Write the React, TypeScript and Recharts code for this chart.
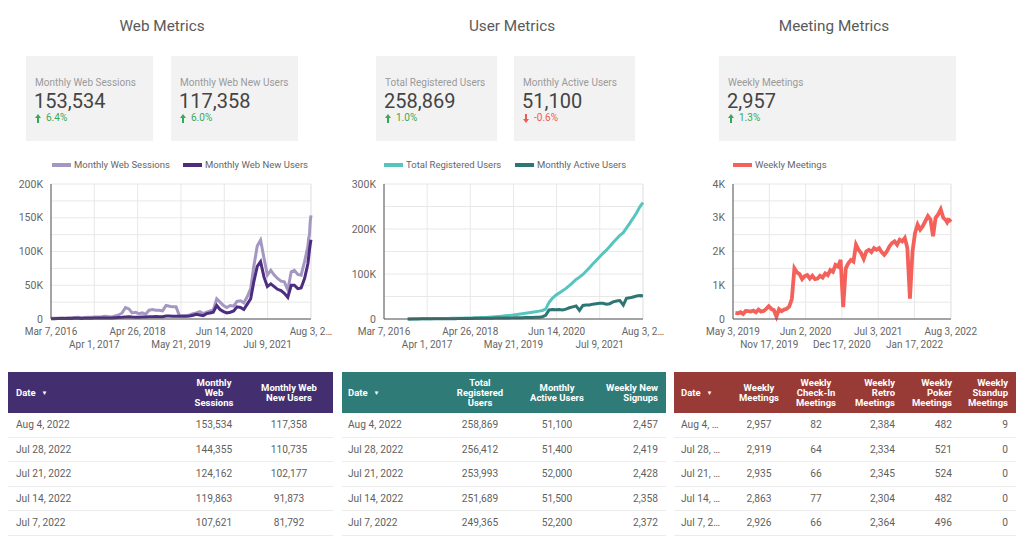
import React from "react";
import { LineChart, Line, XAxis, YAxis, CartesianGrid } from "recharts";

const FONT = "Roboto, 'Noto Sans', sans-serif";

// web metrics: monthly points, then the last five weeks from the table
const webDates = [
  "2016-03-07", "2016-04-07", "2016-05-07", "2016-06-07", "2016-07-07", "2016-08-07", "2016-09-07", "2016-10-07", "2016-11-07", "2016-12-07",
  "2017-01-07", "2017-02-07", "2017-03-07", "2017-04-07", "2017-05-07", "2017-06-07", "2017-07-07", "2017-08-07", "2017-09-07", "2017-10-07", "2017-11-07", "2017-12-07",
  "2018-01-07", "2018-02-07", "2018-03-07", "2018-04-07", "2018-05-07", "2018-06-07", "2018-07-07", "2018-08-07", "2018-09-07", "2018-10-07", "2018-11-07", "2018-12-07",
  "2019-01-07", "2019-02-07", "2019-03-07", "2019-04-07", "2019-05-07", "2019-06-07", "2019-07-07", "2019-08-07", "2019-09-07", "2019-10-07", "2019-11-07", "2019-12-07",
  "2020-01-07", "2020-02-07", "2020-03-07", "2020-04-07", "2020-05-07", "2020-06-07", "2020-07-07", "2020-08-07", "2020-09-07", "2020-10-07", "2020-11-07", "2020-12-07",
  "2021-01-07", "2021-02-07", "2021-03-07", "2021-04-07", "2021-05-07", "2021-06-07", "2021-07-07", "2021-08-07", "2021-09-07", "2021-10-07", "2021-11-07", "2021-12-07",
  "2022-01-07", "2022-02-07", "2022-03-07", "2022-04-07", "2022-05-07", "2022-06-07",
  "2022-07-07", "2022-07-14", "2022-07-21", "2022-07-28", "2022-08-04",
];
const webSessions = [
  1000, 1100, 1200, 1500, 1300, 1800, 2000, 2200, 2500, 1800,
  2400, 2600, 2500, 2800, 3000, 3200, 4000, 3500, 3000, 4500, 6000, 9000,
  17000, 15000, 9000, 10000, 8000, 9000, 7000, 13000, 14000, 13000, 13000, 12000,
  20000, 19000, 18000, 18000, 5000, 5000, 5000, 6000, 8000, 9000, 11000, 8000,
  10000, 12000, 13000, 30000, 25000, 20000, 17000, 20000, 19000, 26000, 27000, 24000,
  33000, 45000, 78000, 108000, 117000, 90000, 65000, 72000, 65000, 60000, 56000, 55000,
  43000, 70000, 72000, 66000, 65000, 85000,
  107621, 119863, 124162, 144355, 153534,
];
const webNewUsers = [
  500, 500, 600, 700, 700, 800, 900, 1000, 1100, 900,
  1100, 1200, 1200, 1300, 1400, 1500, 1600, 1500, 1600, 2000, 2200, 2500,
  3000, 3200, 2800, 2600, 2500, 2800, 3000, 3500, 3500, 3800, 3500, 3400,
  4500, 4500, 4000, 4200, 4000, 4000, 4200, 4500, 5500, 7000, 6000, 5000,
  8000, 9000, 10000, 20000, 14000, 11000, 9000, 10000, 12000, 18000, 17000, 14000,
  22000, 30000, 55000, 78000, 85000, 62000, 48000, 52000, 48000, 44000, 42000, 38000,
  32000, 50000, 50000, 45000, 46000, 60000,
  81792, 91873, 102177, 110735, 117358,
];

// user metrics
const userDates = [
  "2016-10-07", "2016-11-07", "2016-12-07",
  "2017-01-07", "2017-02-07", "2017-03-07", "2017-04-07", "2017-05-07", "2017-06-07", "2017-07-07", "2017-08-07", "2017-09-07", "2017-10-07", "2017-11-07", "2017-12-07",
  "2018-01-07", "2018-02-07", "2018-03-07", "2018-04-07", "2018-05-07", "2018-06-07", "2018-07-07", "2018-08-07", "2018-09-07", "2018-10-07", "2018-11-07", "2018-12-07",
  "2019-01-07", "2019-02-07", "2019-03-07", "2019-04-07", "2019-05-07", "2019-06-07", "2019-07-07", "2019-08-07", "2019-09-07", "2019-10-07", "2019-11-07", "2019-12-07",
  "2020-01-07", "2020-02-07", "2020-03-07", "2020-04-07", "2020-05-07", "2020-06-07", "2020-07-07", "2020-08-07", "2020-09-07", "2020-10-07", "2020-11-07", "2020-12-07",
  "2021-01-07", "2021-02-07", "2021-03-07", "2021-04-07", "2021-05-07", "2021-06-07", "2021-07-07", "2021-08-07", "2021-09-07", "2021-10-07", "2021-11-07", "2021-12-07",
  "2022-01-07", "2022-02-07", "2022-03-07", "2022-04-07", "2022-05-07", "2022-06-07",
  "2022-07-07", "2022-07-14", "2022-07-21", "2022-07-28", "2022-08-04",
];
const totalRegistered = [
  100, 200, 300,
  400, 500, 600, 700, 800, 900, 1000, 1100, 1200, 1300, 1400, 1500,
  1700, 1900, 2000, 2200, 2400, 2600, 2900, 3200, 3600, 4000, 4500, 5000,
  5600, 6300, 7000, 7800, 8600, 9500, 10500, 11500, 12600, 13800, 15000, 16200,
  17500, 19000, 22000, 37000, 46000, 53000, 58000, 63000, 68000, 74000, 81000, 88000,
  93000, 99000, 106000, 114000, 122000, 130000, 138000, 146000, 153000, 161000, 170000, 178000,
  186000, 192000, 202000, 213000, 224000, 236000,
  249365, 251689, 253993, 256412, 258869,
];
const monthlyActive = [
  100, 150, 200,
  250, 300, 350, 400, 450, 500, 550, 600, 650, 700, 750, 800,
  900, 1000, 1100, 1200, 1300, 1400, 1500, 1600, 1700, 1800, 1900, 2000,
  2100, 2200, 2300, 2400, 2500, 2600, 2800, 3000, 3200, 3400, 3600, 3800,
  4000, 5000, 8000, 20000, 21000, 20500, 21000, 20000, 22000, 25000, 27000, 29000,
  19000, 30000, 31000, 31000, 33000, 34000, 35000, 35000, 33000, 34000, 38000, 40000,
  41000, 31000, 46000, 47000, 49000, 51000,
  52200, 51500, 52000, 51400, 51100,
];

// meeting metrics: every other week, then the last four weeks
const meetingDates = [
  "2019-05-16", "2019-05-30", "2019-06-13", "2019-06-27", "2019-07-11", "2019-07-25", "2019-08-08", "2019-08-22", "2019-09-05", "2019-09-19",
  "2019-10-03", "2019-10-17", "2019-10-31", "2019-11-14", "2019-11-28", "2019-12-12", "2019-12-26", "2020-01-09", "2020-01-23", "2020-02-06",
  "2020-02-20", "2020-03-05", "2020-03-19", "2020-04-02", "2020-04-16", "2020-04-30", "2020-05-14", "2020-05-28", "2020-06-11", "2020-06-25",
  "2020-07-09", "2020-07-23", "2020-08-06", "2020-08-20", "2020-09-03", "2020-09-17", "2020-10-01", "2020-10-15", "2020-10-29", "2020-11-12",
  "2020-11-26", "2020-12-10", "2020-12-24", "2021-01-07", "2021-01-21", "2021-02-04", "2021-02-18", "2021-03-04", "2021-03-18", "2021-04-01",
  "2021-04-15", "2021-04-29", "2021-05-13", "2021-05-27", "2021-06-10", "2021-06-24", "2021-07-08", "2021-07-22", "2021-08-05", "2021-08-19",
  "2021-09-02", "2021-09-16", "2021-09-30", "2021-10-14", "2021-10-28", "2021-11-11", "2021-11-25", "2021-12-09", "2021-12-23", "2022-01-06",
  "2022-01-20", "2022-02-03", "2022-02-17", "2022-03-03", "2022-03-17", "2022-03-31", "2022-04-14", "2022-04-28", "2022-05-12", "2022-05-26",
  "2022-06-09", "2022-06-23", "2022-07-07", "2022-07-14", "2022-07-21", "2022-07-28", "2022-08-04",
];
const weeklyMeetings = [
  180, 170, 200, 150, 240, 230, 220, 250, 200, 280,
  220, 240, 300, 380, 300, 260, 70, 290, 230, 280,
  300, 370, 600, 1500, 1380, 1330, 1180, 1270, 1300, 1200,
  1280, 1180, 1200, 1280, 1230, 1350, 1300, 1450, 1400, 1600,
  1550, 1750, 350, 1500, 1650, 1750, 1700, 2200, 2050, 1950,
  1780, 2000, 2050, 1980, 2100, 2050, 2100, 1980, 1900, 2000,
  2150, 2250, 2300, 2200, 2350, 2300, 2400, 2100, 600, 2000,
  2550, 2800, 2650, 2750, 2900, 3050, 2950, 2450, 3000, 3100,
  3250, 3000, 2926, 2863, 2935, 2919, 2957,
];

const longTickDates = ["2016-03-07", "2017-04-01", "2018-04-26", "2019-05-21", "2020-06-14", "2021-07-09", "2022-08-03"];
const longTickLabels = ["Mar 7, 2016", "Apr 1, 2017", "Apr 26, 2018", "May 21, 2019", "Jun 14, 2020", "Jul 9, 2021", "Aug 3, 2…"];
const meetingTickDates = ["2019-05-03", "2019-11-17", "2020-06-02", "2020-12-17", "2021-07-03", "2022-01-17", "2022-08-03"];
const meetingTickLabels = ["May 3, 2019", "Nov 17, 2019", "Jun 2, 2020", "Dec 17, 2020", "Jul 3, 2021", "Jan 17, 2022", "Aug 3, 2022"];

const webYTicks = [0, 25000, 50000, 75000, 100000, 125000, 150000, 175000, 200000];
const userYTicks = [0, 50000, 100000, 150000, 200000, 250000, 300000];
const meetingYTicks = [0, 500, 1000, 1500, 2000, 2500, 3000, 3500, 4000];

// tables
const tableDates = ["Aug 4, 2022", "Jul 28, 2022", "Jul 21, 2022", "Jul 14, 2022", "Jul 7, 2022"];
const tblSessions = [153534, 144355, 124162, 119863, 107621];
const tblNewUsers = [117358, 110735, 102177, 91873, 81792];
const tblRegistered = [258869, 256412, 253993, 251689, 249365];
const tblActive = [51100, 51400, 52000, 51500, 52200];
const tblSignups = [2457, 2419, 2428, 2358, 2372];
const tblMeetings = [2957, 2919, 2935, 2863, 2926];
const tblCheckIn = [82, 64, 66, 77, 66];
const tblRetro = [2384, 2334, 2345, 2304, 2364];
const tblPoker = [482, 521, 524, 482, 496];
const tblStandup = [9, 0, 0, 0, 0];

const toTime = (s: string) => Date.parse(s + "T00:00:00Z");
const fmt = (n: number) => n.toLocaleString("en-US");
const fmtK = (v: number) => (v === 0 ? "0" : v / 1000 + "K");

type Series = { key: string; color: string; values: number[] };

const CHART_W = 345;

function TrendChart(props: {
  left: number;
  width: number;
  yWidth: number;
  dates: string[];
  series: Series[];
  yTicks: number[];
  labelStep: number;
  tickDates: string[];
  tickLabels: string[];
  start: string;
  end: string;
  strokeWidth: number;
}) {
  const { left, width, yWidth, dates, series, yTicks, labelStep, tickDates, tickLabels, start, end, strokeWidth } = props;
  const data = dates.map((d, i) => {
    const row: any = { t: toTime(d) };
    series.forEach((s) => (row[s.key] = s.values[i]));
    return row;
  });
  const ticks = tickDates.map(toTime);
  return (
    <div style={{ position: "absolute", left, top: 150 }}>
      <LineChart width={CHART_W} height={210} data={data} margin={{ top: 34, right: CHART_W - width, bottom: 0, left: 0 }}>
        <CartesianGrid stroke="#e8e8e8" />
        <XAxis
          dataKey="t"
          type="number"
          domain={[toTime(start), toTime(end)]}
          ticks={ticks}
          interval={0}
          height={41}
          tickLine={false}
          axisLine={{ stroke: "#555" }}
          tick={(p: any) => {
            const i = ticks.indexOf(p.payload.value);
            return (
              <text
                key={"t" + i}
                x={p.x}
                y={p.y}
                dy={i % 2 ? 20.5 : 7.5}
                textAnchor="middle"
                fontSize={10}
                fill="#666"
                fontFamily={FONT}
              >
                {tickLabels[i]}
              </text>
            );
          }}
        />
        <YAxis
          width={yWidth}
          ticks={yTicks}
          domain={[0, yTicks[yTicks.length - 1]]}
          interval={0}
          tickLine={false}
          axisLine={{ stroke: "#555" }}
          tick={{ fontSize: 10.5, fill: "#666", fontFamily: FONT }}
          tickFormatter={(v: number) => (v % labelStep === 0 ? fmtK(v) : "")}
        />
        {series.map((s) => (
          <Line
            key={s.key}
            dataKey={s.key}
            type="linear"
            stroke={s.color}
            strokeWidth={strokeWidth}
            dot={false}
            isAnimationActive={false}
          />
        ))}
      </LineChart>
    </div>
  );
}

function Legend({ items }: { items: { x: number; label: string; color: string }[] }) {
  return (
    <>
      {items.map((it) => (
        <div key={it.label} style={{ position: "absolute", left: it.x, top: 158, height: 13, display: "flex", alignItems: "center" }}>
          <div style={{ width: 19, height: 4, background: it.color, marginRight: 3 }} />
          <span style={{ fontSize: 9.5, color: "#666", lineHeight: "13px", whiteSpace: "nowrap" }}>{it.label}</span>
        </div>
      ))}
    </>
  );
}

function Arrow({ up }: { up: boolean }) {
  const c = up ? "#3aa757" : "#ec5a52";
  return (
    <svg width={6} height={9} style={{ marginRight: 5 }}>
      {up ? (
        <>
          <polygon points="3,0 6,4 0,4" fill={c} />
          <rect x={2} y={4} width={2} height={5} fill={c} />
        </>
      ) : (
        <>
          <polygon points="3,9 6,5 0,5" fill={c} />
          <rect x={2} y={0} width={2} height={5} fill={c} />
        </>
      )}
    </svg>
  );
}

function Card(props: { left: number; width: number; label: string; value: string; delta: string; up: boolean }) {
  return (
    <div style={{ position: "absolute", left: props.left, top: 56, width: props.width, height: 85, background: "#f2f2f2" }}>
      <div style={{ position: "absolute", left: 9, top: 20, fontSize: 10, lineHeight: "13px", color: "#9a9a9a", whiteSpace: "nowrap" }}>
        {props.label}
      </div>
      <div style={{ position: "absolute", left: 8, top: 32, fontSize: 20, lineHeight: "26px", color: "#444" }}>{props.value}</div>
      <div
        style={{
          position: "absolute",
          left: 9,
          top: 56,
          fontSize: 10,
          lineHeight: "12px",
          color: props.up ? "#3aa757" : "#ec5a52",
          display: "flex",
          alignItems: "center",
        }}
      >
        <Arrow up={props.up} />
        {props.delta}
      </div>
    </div>
  );
}

type Col = { x: number; w: number; align: "left" | "center" | "right"; head: string[]; cells: string[]; date?: boolean; ellipsis?: boolean };

function DataTable({ left, width, color, cols }: { left: number; width: number; color: string; cols: Col[] }) {
  const rowH = 24.6;
  return (
    <div style={{ position: "absolute", left, top: 372, width, height: 41 + rowH * 5 }}>
      <div style={{ position: "absolute", left: 0, top: 0, width, height: 41, background: color }} />
      {cols.map((c, ci) => (
        <div
          key={"h" + ci}
          style={{
            position: "absolute",
            left: c.x,
            width: c.w,
            top: 0,
            height: 41,
            display: "flex",
            flexDirection: "column",
            justifyContent: "center",
            textAlign: c.align,
            color: "#fff",
            fontWeight: 700,
            fontSize: 9.5,
            lineHeight: "10px",
          }}
        >
          {c.head.map((h, hi) => (
            <div key={hi}>
              {h}
              {c.date ? <span style={{ fontSize: 6, marginLeft: 6, verticalAlign: 1 }}>▼</span> : null}
            </div>
          ))}
        </div>
      ))}
      {tableDates.map((_, r) => (
        <div
          key={"r" + r}
          style={{ position: "absolute", left: 0, top: 41 + r * rowH, width, height: rowH, borderBottom: "1px solid #ececec", boxSizing: "border-box" }}
        />
      ))}
      {cols.map((c, ci) =>
        c.cells.map((v, r) => (
          <div
            key={ci + "-" + r}
            style={{
              position: "absolute",
              left: c.x,
              width: c.w,
              top: 41 + r * rowH,
              height: rowH,
              lineHeight: rowH + "px",
              textAlign: c.align,
              fontSize: 10.2,
              color: "#5f5f5f",
              whiteSpace: "nowrap",
              overflow: c.ellipsis ? "hidden" : "visible",
              textOverflow: c.ellipsis ? "ellipsis" : "clip",
            }}
          >
            {v}
          </div>
        ))
      )}
    </div>
  );
}

const title = (text: string, cx: number) => (
  <div style={{ position: "absolute", left: cx - 100, width: 200, top: 16, textAlign: "center", fontSize: 15.3, lineHeight: "20px", color: "#5a5a5a" }}>
    {text}
  </div>
);

export default function App() {
  return (
    <div
      style={{
        position: "absolute",
        left: 0,
        top: 0,
        width: 1023,
        height: 548,
        background: "#fff",
        overflow: "hidden",
        fontFamily: FONT,
      }}
    >
      {title("Web Metrics", 162)}
      {title("User Metrics", 512)}
      {title("Meeting Metrics", 834)}

      <Card left={26} width={127} label="Monthly Web Sessions" value="153,534" delta="6.4%" up />
      <Card left={171} width={127} label="Monthly Web New Users" value="117,358" delta="6.0%" up />
      <Card left={376} width={121} label="Total Registered Users" value="258,869" delta="1.0%" up />
      <Card left={514} width={121} label="Monthly Active Users" value="51,100" delta="-0.6%" up={false} />
      <Card left={719} width={237} label="Weekly Meetings" value="2,957" delta="1.3%" up />

      <Legend
        items={[
          { x: 52, label: "Monthly Web Sessions", color: "#a497c2" },
          { x: 183, label: "Monthly Web New Users", color: "#4c2d80" },
        ]}
      />
      <TrendChart
        left={0}
        width={311}
        yWidth={51}
        dates={webDates}
        series={[
          { key: "sessions", color: "#a497c2", values: webSessions },
          { key: "newUsers", color: "#4c2d80", values: webNewUsers },
        ]}
        yTicks={webYTicks}
        labelStep={50000}
        tickDates={longTickDates}
        tickLabels={longTickLabels}
        start="2016-03-07"
        end="2022-08-04"
        strokeWidth={3}
      />

      <Legend
        items={[
          { x: 384, label: "Total Registered Users", color: "#56c5c0" },
          { x: 515, label: "Monthly Active Users", color: "#2d7674" },
        ]}
      />
      <TrendChart
        left={340}
        width={303}
        yWidth={44}
        dates={userDates}
        series={[
          { key: "registered", color: "#56c5c0", values: totalRegistered },
          { key: "active", color: "#2d7674", values: monthlyActive },
        ]}
        yTicks={userYTicks}
        labelStep={100000}
        tickDates={longTickDates}
        tickLabels={longTickLabels}
        start="2016-03-07"
        end="2022-08-04"
        strokeWidth={3}
      />

      <Legend items={[{ x: 733, label: "Weekly Meetings", color: "#f4605a" }]} />
      <TrendChart
        left={680}
        width={271}
        yWidth={53}
        dates={meetingDates}
        series={[{ key: "meetings", color: "#f4605a", values: weeklyMeetings }]}
        yTicks={meetingYTicks}
        labelStep={1000}
        tickDates={meetingTickDates}
        tickLabels={meetingTickLabels}
        start="2019-05-03"
        end="2022-08-04"
        strokeWidth={3.8}
      />

      <DataTable
        left={8}
        width={325}
        color="#432f70"
        cols={[
          { x: 8, w: 150, align: "left", head: ["Date"], cells: tableDates, date: true },
          { x: 166, w: 80, align: "center", head: ["Monthly", "Web", "Sessions"], cells: tblSessions.map(fmt) },
          { x: 241, w: 80, align: "center", head: ["Monthly Web", "New Users"], cells: tblNewUsers.map(fmt) },
        ]}
      />
      <DataTable
        left={342}
        width={324}
        color="#2e7b78"
        cols={[
          { x: 6, w: 90, align: "left", head: ["Date"], cells: tableDates, date: true },
          { x: 98, w: 80, align: "center", head: ["Total", "Registered", "Users"], cells: tblRegistered.map(fmt) },
          { x: 170, w: 90, align: "center", head: ["Monthly", "Active Users"], cells: tblActive.map(fmt) },
          { x: 246, w: 70, align: "right", head: ["Weekly New", "Signups"], cells: tblSignups.map(fmt) },
        ]}
      />
      <DataTable
        left={674}
        width={342}
        color="#983a36"
        cols={[
          { x: 7, w: 40, align: "left", head: ["Date"], cells: tableDates, date: true, ellipsis: true },
          { x: 50, w: 70, align: "center", head: ["Weekly", "Meetings"], cells: tblMeetings.map(fmt) },
          { x: 112, w: 60, align: "center", head: ["Weekly", "Check-In", "Meetings"], cells: tblCheckIn.map(fmt) },
          { x: 171, w: 50, align: "right", head: ["Weekly", "Retro", "Meetings"], cells: tblRetro.map(fmt) },
          { x: 226, w: 52, align: "right", head: ["Weekly", "Poker", "Meetings"], cells: tblPoker.map(fmt) },
          { x: 281, w: 53, align: "right", head: ["Weekly", "Standup", "Meetings"], cells: tblStandup.map(fmt) },
        ]}
      />
    </div>
  );
}
